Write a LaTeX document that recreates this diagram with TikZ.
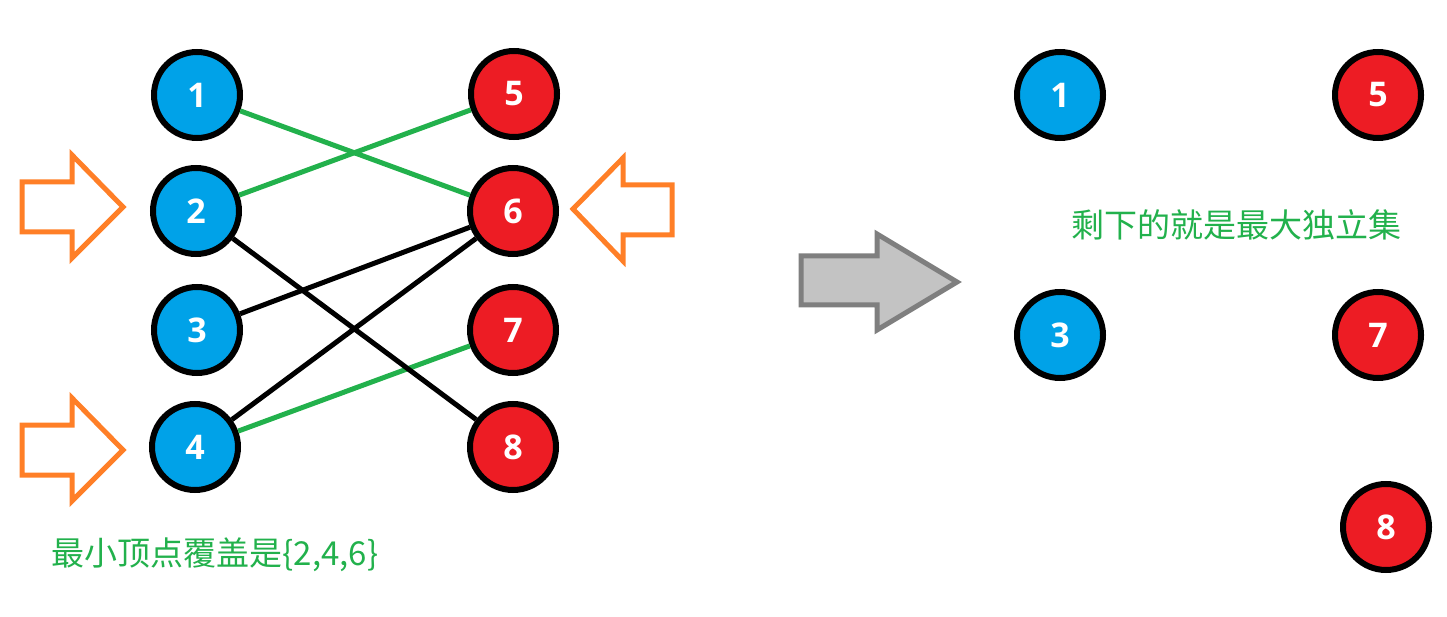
\documentclass[tikz,border=0pt]{standalone}
\usepackage{fontspec}
\setmainfont{Open Sans}
\newfontfamily\cjk{Noto Sans CJK SC}
\usepackage{tikz}
\usetikzlibrary{positioning}
\definecolor{vblue}{HTML}{00A2E8}
\definecolor{vred}{HTML}{ED1C24}
\definecolor{egreen}{HTML}{22B14C}
\definecolor{morange}{HTML}{FF7F27}
\definecolor{agray}{HTML}{C3C3C3}
\definecolor{agrayline}{HTML}{7F7F7F}

\begin{document}
\begin{tikzpicture}[
    x=1pt,
    y=-1pt,
    vert/.style={circle, draw=black, line width=6pt, minimum size=86pt, inner sep=0pt,
        text=white, font=\fontsize{34}{34}\selectfont\bfseries},
    lft/.style={vert, fill=vblue},
    rgt/.style={vert, fill=vred},
    cov/.style={draw=egreen, line width=5pt},
    rest/.style={draw=black, line width=5pt},
    pick/.style={draw=morange, line width=5pt},
    note/.style={text=egreen, font=\cjk\fontsize{33}{36}\selectfont}
]
\useasboundingbox (0,0) rectangle (1447,617);

% --- Left graph ---
\node[lft] (l1) at (197, 95) {1};
\node[lft] (l2) at (196,211) {2};
\node[lft] (l3) at (197,330) {3};
\node[lft] (l4) at (195,447) {4};

\node[rgt] (l5) at (514, 94) {5};
\node[rgt] (l6) at (513,211) {6};
\node[rgt] (l7) at (513,330) {7};
\node[rgt] (l8) at (513,447) {8};

% --- Edges (green = matching) ---
\draw[cov] (l1) -- (l6);
\draw[cov] (l2) -- (l5);
\draw[cov] (l4) -- (l7);

\draw[rest] (l2) -- (l8);
\draw[rest] (l3) -- (l6);
\draw[rest] (l4) -- (l6);

% --- Cover markers ---
\draw[pick] (22,182) -- (72,182) -- (72,155) -- (123,207) -- (72,258) -- (72,232) -- (22,232) -- cycle;
\draw[pick] (22,425) -- (72,425) -- (72,398) -- (123,450) -- (72,501) -- (72,475) -- (22,475) -- cycle;
\draw[pick] (672,185) -- (623,185) -- (623,158) -- (573,209) -- (623,261) -- (623,235) -- (672,235) -- cycle;

\node[note] (lbl) at (215,555) {最小顶点覆盖是\{2,4,6\}};

% --- Transition arrow ---
\draw[draw=agrayline, fill=agray, line width=5pt]
(801,256) -- (877,256) -- (877,234) -- (957,282) -- (877,330) -- (877,305) -- (801,305) -- cycle;

% --- Remaining vertices ---
\node[lft] (r1) at (1060, 95) {1};
\node[lft] (r3) at (1060,335) {3};
\node[rgt] (r5) at (1378, 95) {5};
\node[rgt] (r7) at (1378,335) {7};
\node[rgt] (r8) at (1386,527) {8};

\node[note] (res) at (1236,225) {剩下的就是最大独立集};
\end{tikzpicture}
\end{document}
